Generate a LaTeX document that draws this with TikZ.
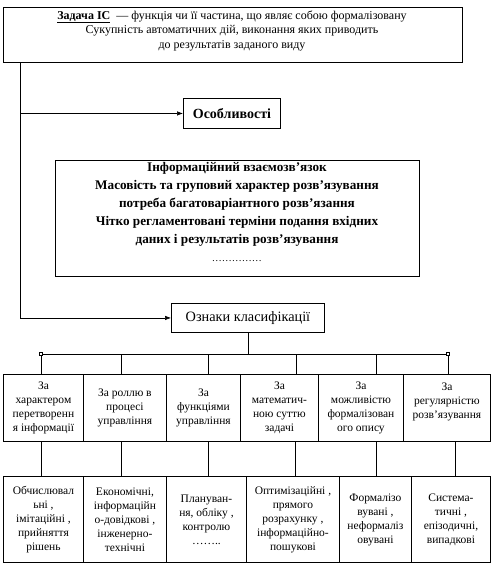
\documentclass[tikz,border=0pt]{standalone}
\usepackage{fontspec}
\setmainfont{Liberation Serif}
\usetikzlibrary{arrows.meta,positioning}

\begin{document}
\begin{tikzpicture}[x=1pt,y=-1pt,
  box/.style={draw,line width=0.9pt,inner sep=1pt,align=center,anchor=north west},
  cell/.style={box,font=\fontsize{11.5}{14}\selectfont,minimum height=67pt},
  leaf/.style={box,font=\fontsize{11.5}{14}\selectfont,minimum height=86pt},
  link/.style={line width=0.6pt},
  feed/.style={link,-{Latex[length=6pt,width=4.5pt]}},
  knob/.style={draw,fill=white,line width=0.5pt,minimum size=3pt,inner sep=0pt}]
\path[use as bounding box] (0,0) rectangle (494,566);

% Визначення задачі
\node[box,line width=1.3pt,minimum width=459pt,minimum height=55pt] (task) at (3,7) {};
\node[anchor=north,align=center,font=\fontsize{12}{14.5}\selectfont] (tasktext) at (232,7)
  {\textbf{\underline{Задача ІС}}\ \ — функція чи її частина, що являє собою формалізовану\\
   Сукупність автоматичних дій, виконання яких приводить\\
   до результатів заданого виду};

% Особливості
\node[box,minimum width=97pt,minimum height=30pt,font=\bfseries\fontsize{14}{16}\selectfont] (feat) at (183,98) {Особливості};
\node[box,minimum width=364pt,minimum height=116pt] (traits) at (55,160) {};
\node[anchor=north,align=center,font=\bfseries\fontsize{13.2}{18}\selectfont] (traitstext) at (237,159)
  {Інформаційний взаємозв’язок\\
   Масовість та груповий характер розв’язування\\
   потреба багатоваріантного розв’язання\\
   Чітко регламентовані терміни подання вхідних\\
   даних і результатів розв’язування\\
   {\mdseries\fontsize{10}{18}\selectfont……………}};

% Ознаки класифікації
\node[box,minimum width=153pt,minimum height=29pt,font=\fontsize{14.3}{16}\selectfont] (signs) at (171,303) {Ознаки класифікації};

\coordinate (spine) at (20,63);
\draw[feed] (spine) |- (feat.west);
\draw[feed] (spine) |- (signs.west);

% Ознаки
\node[cell,minimum width=80pt] (cat1) at (3,374)   {За\\характером\\перетворенн\\я інформації};
\node[cell,minimum width=83pt] (cat2) at (83,374)  {За роллю в\\процесі\\управління};
\node[cell,minimum width=74pt] (cat3) at (166,374) {За\\функціями\\управління};
\node[cell,minimum width=78pt] (cat4) at (240,374) {За\\математич-\\ною суттю\\задачі};
\node[cell,minimum width=85pt] (cat5) at (318,374) {За\\можливістю\\формалізован\\ого опису};
\node[cell,minimum width=87pt] (cat6) at (403,374) {За\\регулярністю\\розв'язування\\\mbox{}};

% Види задач
\node[leaf,minimum width=80pt] (kind1) at (3,476)   {Обчислювал\\ьні ,\\імітаційні ,\\прийняття\\рішень};
\node[leaf,minimum width=83pt] (kind2) at (83,476)  {Економічні,\\інформаційн\\о-довідкові ,\\інженерно-\\технічні};
\node[leaf,minimum width=80pt] (kind3) at (166,476) {Плануван-\\ня, обліку ,\\контролю\\……..};
\node[leaf,minimum width=93pt] (kind4) at (246,476) {Оптимізаційні ,\\прямого\\розрахунку ,\\інформаційно-\\пошукові};
\node[leaf,minimum width=72pt] (kind5) at (339,476) {Формалізо\\вувані ,\\неформаліз\\овувані};
\node[leaf,minimum width=79pt] (kind6) at (411,476) {Система-\\тичні ,\\епізодичні,\\випадкові};

% Шина
\draw[link] (signs.south) -- ++(0,22) coordinate (hub);
\node[knob] (lend) at (41,354) {};
\node[knob] (rend) at (448,354) {};
\draw[link] (lend) -- (rend);
\foreach \x/\i in {41/1,121/2,208/3,296/4,376/5,448/6} {
  \coordinate (drop\i) at (\x,0);
  \draw[link] (hub -| drop\i) -- (cat\i.north -| drop\i);
}
\foreach \x/\i in {41/1,121/2,208/3,295/4,376/5,455/6} {
  \coordinate (tap\i) at (\x,0);
  \draw[link] (cat\i.south -| tap\i) -- (kind\i.north -| tap\i);
}
\end{tikzpicture}
\end{document}
